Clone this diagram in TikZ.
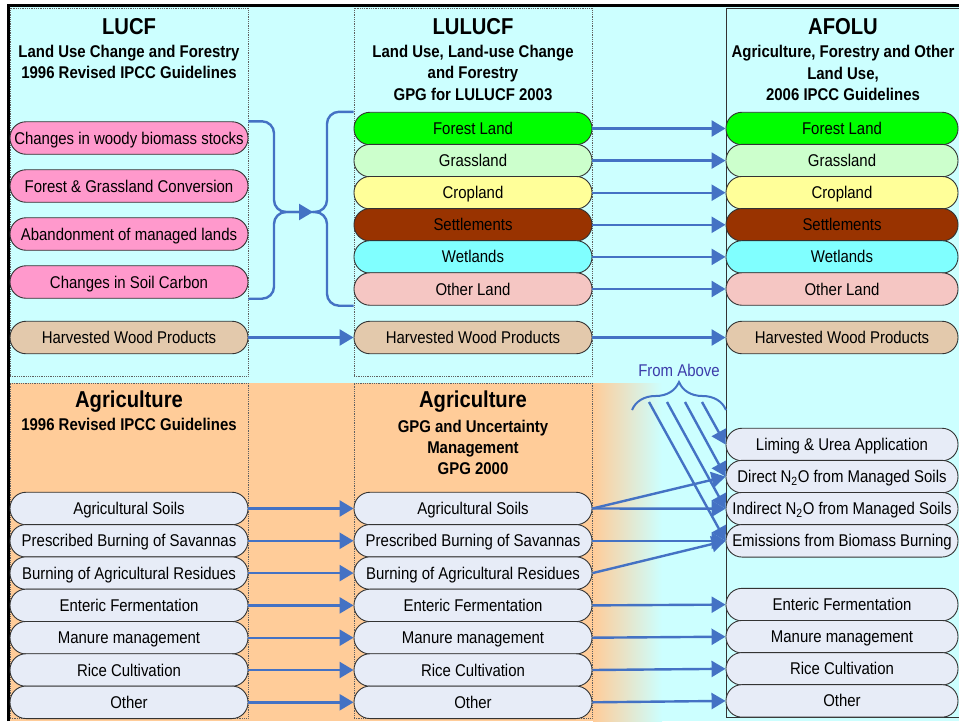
\documentclass[tikz,border=0pt]{standalone}
\usepackage{fontspec}
\setmainfont{Liberation Sans}[FakeStretch=0.88]
\usetikzlibrary{arrows.meta,decorations.pathreplacing}
\definecolor{bgcyan}{HTML}{CCFFFF}
\definecolor{bgorange}{HTML}{FFCC99}
\definecolor{pinkbox}{HTML}{FF99CC}
\definecolor{forestc}{HTML}{00FF00}
\definecolor{grassc}{HTML}{CCFFCC}
\definecolor{cropc}{HTML}{FFFF99}
\definecolor{settlec}{HTML}{993300}
\definecolor{wetc}{HTML}{80FFFF}
\definecolor{otherc}{HTML}{F5C6C3}
\definecolor{hwpc}{HTML}{E3C9AC}
\definecolor{agric}{HTML}{E7ECF7}
\definecolor{boxline}{HTML}{333333}
\definecolor{colline}{HTML}{606060}
\definecolor{connblue}{HTML}{4472C4}
\definecolor{fromblue}{RGB}{60,60,170}
\begin{document}
\begin{tikzpicture}[x=1pt,y=-1pt,
  rbox/.style={draw=boxline, line width=0.9pt, rounded corners=16pt,
    minimum width=238pt, minimum height=32.5pt, text height=12pt,
    text depth=0pt, inner sep=0pt, font=\fontsize{17}{20}\selectfont},
  abox/.style={rbox, minimum width=232pt},
  colbox/.style={draw=colline, densely dotted, line width=0.8pt, inner sep=0pt},
  titlef/.style={anchor=base, font=\fontsize{23}{26}\selectfont\bfseries, inner sep=0pt},
  subf/.style={anchor=base, font=\fontsize{17}{20}\selectfont\bfseries, inner sep=0pt},
  bline/.style={draw=connblue, line width=2.4pt},
  conn/.style={bline, -{Triangle[length=14pt,width=16pt]}},
]
\useasboundingbox (0,0) rectangle (959,721);
% backgrounds
\fill[white] (0,0) rectangle (959,721);
\fill[bgcyan] (8,5) rectangle (959,721);
\fill[bgorange] (8,383) rectangle (594,721);
\shade[left color=bgorange, right color=bgcyan] (593,383) rectangle (662,721);
\draw[line width=3pt] (8,721) -- (8,5) -- (959,5);

% column boxes
\node[colbox, minimum width=238pt, minimum height=368pt] (lucfbox) at (129,192) {};
\node[colbox, minimum width=238pt, minimum height=368pt] (lulucfbox) at (473,192) {};
\node[colbox, fill=bgorange, minimum width=238pt, minimum height=335pt] (ag1box) at (129,550.5) {};
\node[colbox, fill=bgorange, minimum width=238pt, minimum height=335pt] (ag2box) at (473,550.5) {};
\node[draw=boxline, line width=0.8pt, inner sep=0pt, minimum width=236pt, minimum height=709pt] (afolubox) at (844,362.5) {};

% headers
\node[titlef] (h1t) at (129,34) {LUCF};
\node[subf] (h1a) at (129,57) {Land Use Change and Forestry};
\node[subf] (h1b) at (129,78.5) {1996 Revised IPCC Guidelines};
\node[titlef] (h2t) at (473,34) {LULUCF};
\node[subf] (h2a) at (473,57) {Land Use, Land-use Change};
\node[subf] (h2b) at (473,78.5) {and Forestry};
\node[subf] (h2c) at (473,100.5) {GPG for LULUCF 2003};
\node[titlef] (h3t) at (843,34) {AFOLU};
\node[subf] (h3a) at (843,57) {Agriculture, Forestry and Other};
\node[subf] (h3b) at (843,79) {Land Use,};
\node[subf] (h3c) at (843,100.7) {2006 IPCC Guidelines};
\node[titlef] (h4t) at (129,407) {Agriculture};
\node[subf] (h4a) at (129,430) {1996 Revised IPCC Guidelines};
\node[titlef] (h5t) at (473,407) {Agriculture};
\node[subf] (h5a) at (473,432.5) {GPG and Uncertainty};
\node[subf] (h5b) at (473,453) {Management};
\node[subf] (h5c) at (473,474) {GPG 2000};

% bracket
\coordinate (joinL) at (274,212);
\coordinate (joinR) at (327,212);
\coordinate (tip) at (313,212);

% LUCF boxes
\node[rbox, fill=pinkbox] (lucf-woody) at (129,138) {Changes in woody biomass stocks};
\node[rbox, fill=pinkbox] (lucf-conv) at (129,186) {Forest \& Grassland Conversion};
\node[rbox, fill=pinkbox] (lucf-aband) at (129,234) {Abandonment of managed lands};
\node[rbox, fill=pinkbox] (lucf-soil) at (129,282) {Changes in Soil Carbon};
\node[rbox, fill=hwpc] (lucf-hwp) at (129,337.5) {Harvested Wood Products};

% LULUCF boxes
\node[rbox, fill=forestc] (lu-forest) at (473,128.5) {Forest Land};
\node[rbox, fill=grassc] (lu-grass) at (473,160.6) {Grassland};
\node[rbox, fill=cropc] (lu-crop) at (473,192.7) {Cropland};
\node[rbox, fill=settlec] (lu-settle) at (473,224.8) {Settlements};
\node[rbox, fill=wetc] (lu-wet) at (473,256.9) {Wetlands};
\node[rbox, fill=otherc] (lu-other) at (473,289) {Other Land};
\node[rbox, fill=hwpc] (lu-hwp) at (473,337.5) {Harvested Wood Products};

% AFOLU boxes
\node[abox, fill=forestc] (af-forest) at (842,128.5) {Forest Land};
\node[abox, fill=grassc] (af-grass) at (842,160.6) {Grassland};
\node[abox, fill=cropc] (af-crop) at (842,192.7) {Cropland};
\node[abox, fill=settlec] (af-settle) at (842,224.8) {Settlements};
\node[abox, fill=wetc] (af-wet) at (842,256.9) {Wetlands};
\node[abox, fill=otherc] (af-other) at (842,289) {Other Land};
\node[abox, fill=hwpc] (af-hwp) at (842,337.5) {Harvested Wood Products};
\node[abox, fill=agric] (af-liming) at (842,444.5) {Liming \& Urea Application};
\node[abox, fill=agric] (af-direct) at (842,476.6) {Direct N\textsubscript{2}O from Managed Soils};
\node[abox, fill=agric] (af-indirect) at (842,508.7) {Indirect N\textsubscript{2}O from Managed Soils};
\node[abox, fill=agric] (af-burn) at (842,540.8) {Emissions from Biomass Burning};
\node[abox, fill=agric] (af-enteric) at (842,604.6) {Enteric Fermentation};
\node[abox, fill=agric] (af-manure) at (842,636.7) {Manure management};
\node[abox, fill=agric] (af-rice) at (842,668.8) {Rice Cultivation};
\node[abox, fill=agric] (af-oth) at (842,700.9) {Other};

% Agriculture boxes
\foreach \c/\x in {ag1/129, ag2/473} {
  \node[rbox, fill=agric] (\c-soils) at (\x,508.5) {Agricultural Soils};
  \node[rbox, fill=agric] (\c-savan) at (\x,540.8) {Prescribed Burning of Savannas};
  \node[rbox, fill=agric] (\c-resid) at (\x,573.1) {Burning of Agricultural Residues};
  \node[rbox, fill=agric] (\c-enteric) at (\x,605.4) {Enteric Fermentation};
  \node[rbox, fill=agric] (\c-manure) at (\x,637.7) {Manure management};
  \node[rbox, fill=agric] (\c-rice) at (\x,670) {Rice Cultivation};
  \node[rbox, fill=agric] (\c-oth) at (\x,702.3) {Other};
}

% bracket connectors
\draw[bline, rounded corners=12pt] (lucf-woody.north east) -| (joinL) -- (tip);
\draw[conn, rounded corners=12pt] (lucf-soil.south east) -| (joinL) -- (tip);
\draw[bline, rounded corners=12pt] (lu-forest.north west) -| (joinR) -- (tip);
\draw[bline, rounded corners=12pt] (lu-other.south west) -| (joinR) -- (tip);

% land arrows
\foreach \n in {forest,grass,crop,settle,wet,other,hwp}
  \draw[conn] (lu-\n.east) -- (af-\n.west);
\draw[conn] (lucf-hwp.east) -- (lu-hwp.west);

% agriculture arrows
\foreach \n in {soils,savan,resid,enteric,manure,rice,oth}
  \draw[conn] (ag1-\n.east) -- (ag2-\n.west);
\draw[conn] (ag2-soils.east) -- (af-direct.west);
\draw[conn] (ag2-soils.east) -- (af-indirect.west);
\draw[conn] (ag2-savan.east) -- (af-burn.west);
\draw[conn] (ag2-resid.east) -- (af-burn.west);
\foreach \n in {enteric,manure,rice,oth}
  \draw[conn] (ag2-\n.east) -- (af-\n.west);

% From Above
\node[anchor=base, text=fromblue, font=\fontsize{17}{20}\selectfont, inner sep=0pt] (fromabove) at (679,376) {From Above};
\coordinate (braceL) at (632,410);
\coordinate (braceR) at (726,410);
\draw[bline, line width=2pt, decorate, decoration={brace, amplitude=28pt}] (braceL) -- (braceR);
\coordinate (fa1) at (649,402);
\coordinate (fa2) at (667,402);
\coordinate (fa3) at (685,402);
\coordinate (fa4) at (702,402);
\draw[conn] (fa1) -- (af-burn.west);
\draw[conn] (fa2) -- (af-indirect.west);
\draw[conn] (fa3) -- (af-direct.west);
\draw[conn] (fa4) -- (af-liming.west);
\end{tikzpicture}
\end{document}
